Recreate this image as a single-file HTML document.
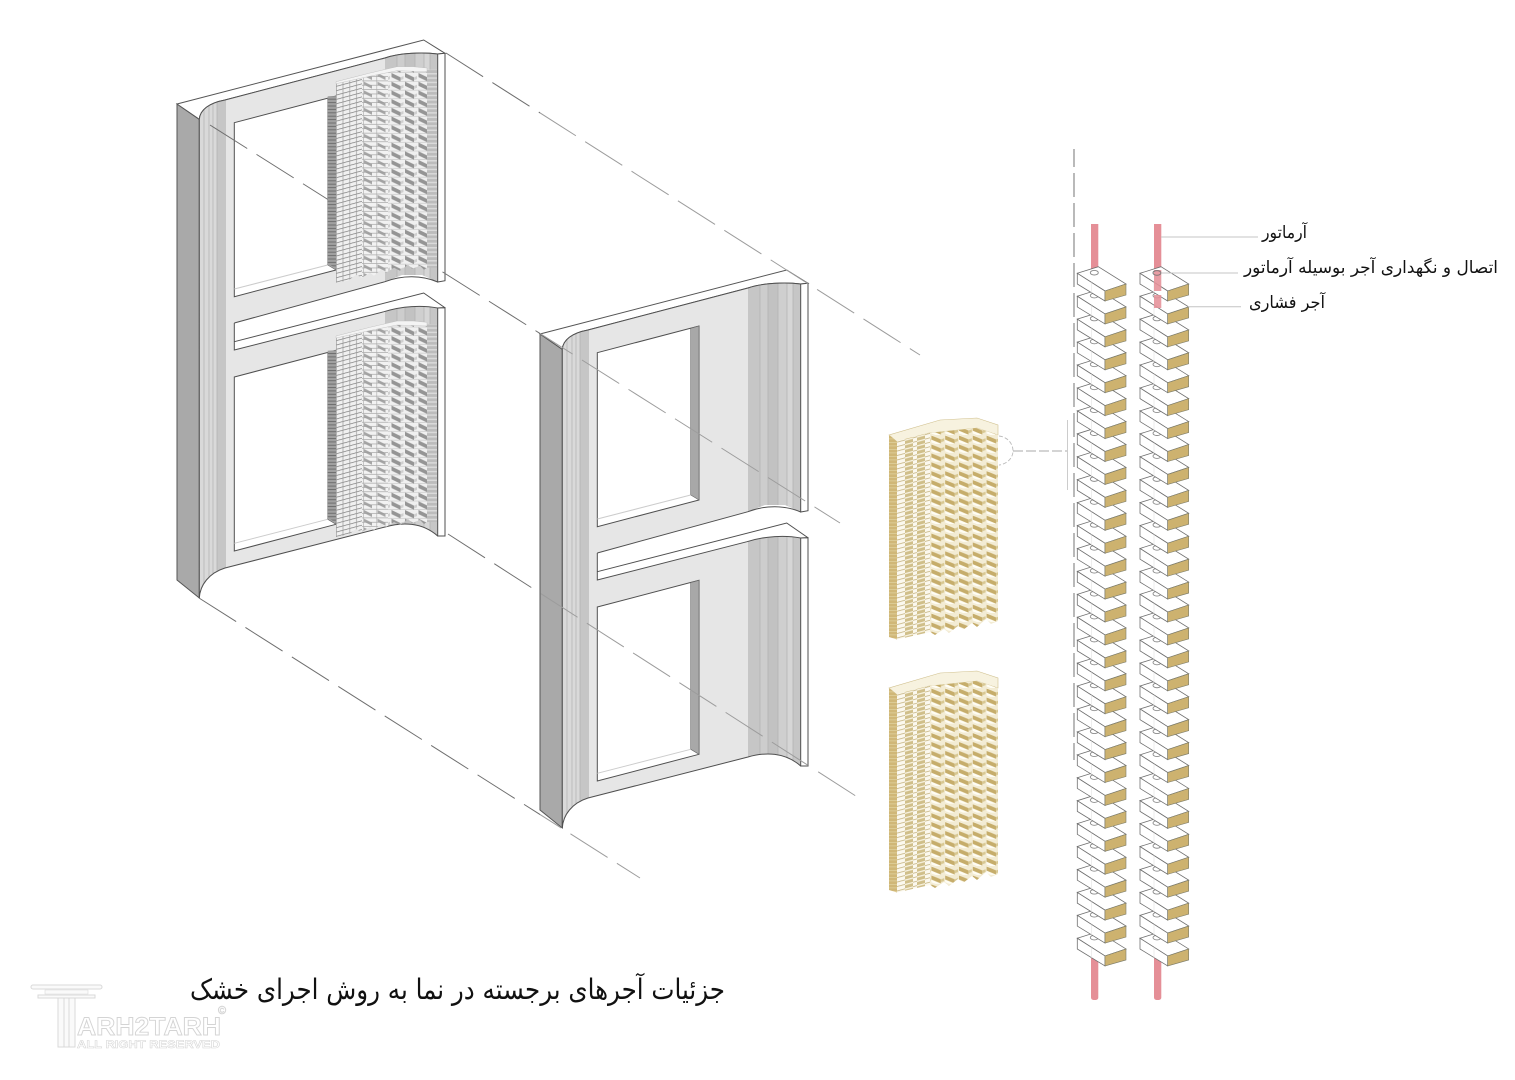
<!DOCTYPE html>
<html><head><meta charset="utf-8"><style>html,body{margin:0;padding:0;background:#fff}svg{display:block}</style></head><body>
<svg xmlns="http://www.w3.org/2000/svg" width="1515" height="1080" viewBox="0 0 1515 1080">
<defs>
<clipPath id="pc"><path d="M562.3,349.3 C563,340 572,333 588,330 L748,288 C762,283 785,282 800.7,284 L800.7,512 C785,505 765,505 748,511.7 L597.3,553 L597.3,580 L747,541.7 C765,536 785,535 800.7,538 L800.7,766 C785,752 765,752 748,757 L588,798 C572,803 563,815 562.3,828 Z"/></clipPath>
<clipPath id="cl"><rect x="0" y="0" width="540" height="1080"/></clipPath>
<clipPath id="cr"><rect x="540" y="0" width="975" height="1080"/></clipPath>
<g id="wall">
<polygon points="540,334 562.3,349.3 562.3,828 540,810" fill="#a9a9a9" stroke="#555" stroke-width="1"/>
<path d="M540,334 L786.7,270 L808,283.3 L800.7,284 C785,282 762,283 748,288 L588,330 C572,333 563,340 562.3,349.3 Z" fill="#fff" stroke="#555" stroke-width="1"/>
<path d="M562.3,349.3 C563,340 572,333 588,330 L748,288 C762,283 785,282 800.7,284 L800.7,512 C785,505 765,505 748,511.7 L597.3,553 L597.3,580 L747,541.7 C765,536 785,535 800.7,538 L800.7,766 C785,752 765,752 748,757 L588,798 C572,803 563,815 562.3,828 Z" fill="#e6e6e6"/>
<g clip-path="url(#pc)">
<rect x="562" y="320" width="18" height="520" fill="#d9d9d9"/><rect x="580" y="320" width="9" height="520" fill="#c6c6c6"/>
<rect x="748" y="270" width="12" height="510" fill="#c6c6c6"/><rect x="760" y="270" width="8" height="510" fill="#cdcdcd"/><rect x="768" y="270" width="10" height="510" fill="#c2c2c2"/><rect x="778" y="270" width="9" height="510" fill="#cfcfcf"/><rect x="787" y="270" width="6" height="510" fill="#d6d6d6"/><rect x="793" y="270" width="8" height="510" fill="#c6c6c6"/>
<path d="M567 320V840M572 320V840M576 320V840M580 320V840M760 270V780M768 270V780M778 270V780M787 270V780M793 270V780" stroke="#b0b0b0" stroke-width=".7"/>
</g>
<polygon points="597.3,553 748,511.7 765,505 785,505 800.7,512 800.7,538 786.7,523 597.3,571.7" fill="#fff"/>
<path d="M562.3,349.3 C563,340 572,333 588,330 L748,288 C762,283 785,282 800.7,284 M597.3,553 L748,511.7 C765,505 785,505 800.7,512 M597.3,553 V580 L747,541.7 C765,536 785,535 800.7,538 L808,537.7 M597.3,571.7 L786.7,523 L808,537.7 V766 L800.7,766 C785,752 765,752 748,757 L588,798 C572,803 563,815 562.3,828 M562.3,349.3V828" fill="none" stroke="#4f4f4f" stroke-width="1"/>
<path d="M800.7,284 V512 L808,510.7 V283.3 Z" fill="#fff" stroke="#4f4f4f" stroke-width="1"/>
<path d="M800.7,538 V766 L808,766 V537.7 Z" fill="#fff" stroke="#4f4f4f" stroke-width="1"/>
<polygon points="597.3,352.7 699,326 699,500 597.3,526.7" fill="#fff" stroke="#4f4f4f" stroke-width="1"/>
<polygon points="690.7,328.3 699,326 699,500 690.7,495" fill="#a8a8a8" stroke="#666" stroke-width=".6"/>
<path d="M597.3,519 L690.7,495" stroke="#ccc" stroke-width="1"/>
<polygon points="597.3,607 699,580.3 699,754.3 597.3,781" fill="#fff" stroke="#4f4f4f" stroke-width="1"/>
<polygon points="690.7,582.6 699,580.3 699,754.3 690.7,749.3" fill="#a8a8a8" stroke="#666" stroke-width=".6"/>
<path d="M597.3,773.3 L690.7,749.3" stroke="#ccc" stroke-width="1"/>
</g>

<pattern id="gf" patternUnits="userSpaceOnUse" width="13.5" height="4.35" patternTransform="skewY(-15)">
<rect width="13.5" height="4.35" fill="#f0f0f0"/><path d="M0 .3H13.5" stroke="#777" stroke-width=".8"/><path d="M.3 0V4.35M7 0V4.35" stroke="#999" stroke-width=".7"/>
</pattern>
<pattern id="gm" patternUnits="userSpaceOnUse" width="13.5" height="8.7">
<rect width="13.5" height="8.7" fill="#f2f2f2"/><polygon points="1,0 9,4 9,7 1,3" fill="#a6a6a6"/><path d="M0 3.6H13.5M0 7.9H13.5" stroke="#999" stroke-width=".6"/><path d="M.3 0V8.7" stroke="#aaa" stroke-width=".6"/>
</pattern>
<pattern id="gd" patternUnits="userSpaceOnUse" width="13.5" height="8.7">
<rect width="13.5" height="8.7" fill="#f0f0f0"/><polygon points="1.5,0 10.5,4.3 10.5,8.4 1.5,4.1" fill="#959595"/><polygon points="10.5,4.3 13.5,3 13.5,6 10.5,7.3" fill="#cfcfcf"/><path d="M0 8.4H13.5" stroke="#bbb" stroke-width=".5"/>
</pattern>
<pattern id="gs" patternUnits="userSpaceOnUse" width="10" height="4.35">
<rect width="10" height="4.35" fill="#bcbcbc"/><rect width="10" height="1.5" fill="#dadada"/>
</pattern>
<pattern id="gr" patternUnits="userSpaceOnUse" width="9" height="3.4">
<rect width="9" height="3.4" fill="#a0a0a0"/><rect width="9" height="1" fill="#6f6f6f"/>
</pattern>
<clipPath id="gc"><polygon points="0,0 34,-8.7 61,-15 77,-15 91,-13.7 91,186 88,188 84,184 76,187 72,183 64,189 58,186 50,191 45,188 38,194 34,191 26,196 20,193 12,199 0,201"/></clipPath>
<g id="gp">
<g clip-path="url(#gc)">
<rect x="0" y="-20" width="26" height="225" fill="url(#gf)"/>
<rect x="26" y="-20" width="26" height="225" fill="url(#gm)"/>
<rect x="52" y="-20" width="40" height="225" fill="url(#gd)"/>
</g>
<polygon points="0,0 34,-8.7 61,-15 77,-15 91,-13.7 91,-10 61,-11 34,-5.5 0,2" fill="#f4f4f4" stroke="#bbb" stroke-width=".4"/>
<rect x="91" y="-12" width="10" height="198" fill="url(#gs)"/>
<polygon points="-8.3,14.7 0,14.2 0,186.3 -8.3,182.3" fill="url(#gr)"/>
</g>

<pattern id="tf" patternUnits="userSpaceOnUse" width="13.8" height="4.45" patternTransform="skewY(-15)">
<rect width="13.8" height="4.45" fill="#fbf8ee"/><path d="M0 .3H13.8" stroke="#c4b27e" stroke-width="1"/>
</pattern>
<pattern id="tb" patternUnits="userSpaceOnUse" width="13.8" height="4.45" patternTransform="skewY(-15)">
<rect width="13.8" height="4.45" fill="#d0bf8a"/><rect width="13.8" height="1.3" fill="#f8f3e2"/>
</pattern>
<pattern id="td" patternUnits="userSpaceOnUse" width="13.8" height="8.9">
<rect width="13.8" height="8.9" fill="#f3ecd4"/><polygon points="1,0.5 10.5,4.5 10.5,8.7 1,4.7" fill="#c6ad6b"/><polygon points="1,4.7 10.5,8.7 10.5,8.9 5,8.9 1,7.4" fill="#fffdf4"/><polygon points="1,0 6,2.1 1,.5" fill="#fffdf4"/><polygon points="10.5,4.5 13.8,3.2 13.8,6 10.5,7.3" fill="#d8c893"/>
</pattern>
<pattern id="tl" patternUnits="userSpaceOnUse" width="8" height="3.5">
<rect width="8" height="3.5" fill="#d0b777"/><rect width="8" height=".8" fill="#e0d09c"/>
</pattern>
<clipPath id="tc"><polygon points="8,6 40,-2 88,-7 109,0 109,186 102,189 97,184 88,192 83,188 74,195 69,191 60,198 55,194 46,200 41,197 8,204.5"/></clipPath>
<g id="tp">
<polygon points="0,0 51,-15 88,-17 109,-10 109,0 88,-7 40,-2 8,6.7" fill="#f7f2df" stroke="#d0c08e" stroke-width=".6"/>
<polygon points="0,0 8,6.7 8,204.5 0,202" fill="url(#tl)"/>
<g clip-path="url(#tc)">
<rect x="8" y="-10" width="8" height="220" fill="url(#tf)"/>
<rect x="16" y="-10" width="8" height="220" fill="url(#tb)"/>
<rect x="24" y="-10" width="4" height="220" fill="url(#tf)"/>
<rect x="28" y="-10" width="8" height="220" fill="url(#tb)"/>
<rect x="36" y="-10" width="5" height="220" fill="url(#tf)"/>
<rect x="41" y="-10" width="69" height="220" fill="url(#td)"/>
</g>
</g>

<g id="b">
<polygon points="0,0 21,-6.6 48.7,10.7 27.7,17.7" fill="#fff" stroke="#707070" stroke-width=".8"/>
<polygon points="0,0 27.7,17.7 27.7,27.7 0,10.7" fill="#fff" stroke="#707070" stroke-width=".8"/>
<polygon points="27.7,17.7 48.7,10.7 48.7,21.7 27.7,27.7" fill="#cdb26f" stroke="#7d7d6a" stroke-width=".6"/>
<ellipse cx="17" cy="-.6" rx="4" ry="2.3" fill="none" stroke="#8a8a8a" stroke-width=".9"/>
<path d="M14 9V19.5" stroke="#e2e2e2" stroke-width=".6"/>
</g>
<g id="chain">
<use href="#b" y="664.97"/><use href="#b" y="642.04"/><use href="#b" y="619.11"/><use href="#b" y="596.18"/><use href="#b" y="573.25"/><use href="#b" y="550.32"/><use href="#b" y="527.39"/><use href="#b" y="504.46"/><use href="#b" y="481.53"/><use href="#b" y="458.6"/><use href="#b" y="435.67"/><use href="#b" y="412.74"/><use href="#b" y="389.81"/><use href="#b" y="366.88"/><use href="#b" y="343.95"/><use href="#b" y="321.02"/><use href="#b" y="298.09"/><use href="#b" y="275.16"/><use href="#b" y="252.23"/><use href="#b" y="229.3"/><use href="#b" y="206.37"/><use href="#b" y="183.44"/><use href="#b" y="160.51"/><use href="#b" y="137.58"/><use href="#b" y="114.65"/><use href="#b" y="91.72"/><use href="#b" y="68.79"/><use href="#b" y="45.86"/><use href="#b" y="22.93"/><use href="#b" y="0"/>
</g>
<g id="ls" fill="none" stroke-width="1" stroke-dasharray="44 11">
<path d="M446,53 L920,355"/>
<path d="M210,125 L840,523"/>
<path d="M448,534 L862,800"/>
<path d="M199,598 L640,878"/>
</g>
</defs>

<use href="#wall" transform="translate(-363,-230)"/>
<use href="#wall"/>

<g clip-path="url(#cl)"><use href="#ls" stroke="#6e6e6e"/></g>
<g clip-path="url(#cr)"><use href="#ls" stroke="#9c9c9c"/></g>

<use href="#gp" transform="translate(336,81.7)"/>
<use href="#gp" transform="translate(336,336)"/>

<use href="#tp" transform="translate(889,435)"/>
<use href="#tp" transform="translate(889,688)"/>

<path d="M999,436 C1008,437 1013,444 1013,451 C1013,458 1007,464 999,465" fill="none" stroke="#bbb" stroke-width=".9" stroke-dasharray="4 2"/>
<path d="M1013,451H1068" stroke="#aaa" stroke-width="1" stroke-dasharray="10 3"/>
<path d="M1067.5,420V490" stroke="#ccc" stroke-width="1"/>
<path d="M1074,149V760" stroke="#a8a8a8" stroke-width="1.6" stroke-dasharray="24 6" stroke-dashoffset="6"/>

<rect x="1091" y="224" width="7.3" height="50" fill="#e58f97"/>
<rect x="1154" y="224" width="7.3" height="50" fill="#e58f97"/>
<rect x="1091" y="955" width="7.3" height="45" rx="2.5" fill="#e58f97"/>
<rect x="1154" y="955" width="7.3" height="45" rx="2.5" fill="#e58f97"/>

<use href="#chain" transform="translate(1077.3,273.3)"/>
<use href="#chain" transform="translate(1140,273.3)"/>

<rect x="1154" y="270" width="7.3" height="21" fill="#e58f97" opacity=".88"/>
<rect x="1154" y="295" width="7.3" height="13" fill="#e58f97" opacity=".88"/>
<ellipse cx="1157" cy="273" rx="4" ry="2.3" fill="none" stroke="#777" stroke-width=".9"/>

<path d="M1161,237H1258M1162,273H1238M1188,306.7H1241" stroke="#c4c4c4" stroke-width="1" fill="none"/>

<g font-family="'DejaVu Sans',sans-serif" fill="#111" text-anchor="middle">
<text x="1284.5" y="238" font-size="17" direction="rtl" textLength="45" lengthAdjust="spacingAndGlyphs">آرماتور</text>
<text x="1371" y="273" font-size="17" direction="rtl" textLength="254" lengthAdjust="spacingAndGlyphs">اتصال و نگهداری آجر بوسیله  آرماتور</text>
<text x="1287" y="308" font-size="17" direction="rtl" textLength="76" lengthAdjust="spacingAndGlyphs">آجر فشاری</text>
<text x="457.5" y="999" font-size="28" direction="rtl" textLength="535" lengthAdjust="spacingAndGlyphs">جزئیات آجرهای برجسته در نما به روش اجرای خشک</text>
</g>

<g fill="#fafafa" stroke="#d9d9d9" stroke-width="1">
<rect x="31" y="985" width="71" height="4" rx="2"/>
<rect x="38" y="995" width="57" height="3"/>
<path d="M45 990H88V994H45Z" stroke-width=".6"/>
<path d="M58 998H64V1047H58ZM64 998H69V1047H64ZM69 998H75V1047H69Z"/>
</g>
<g font-family="'Liberation Sans',sans-serif" font-weight="bold" fill="#fff" stroke="#d4d4d4" stroke-width=".9">
<text x="77" y="1035" font-size="25" textLength="144" lengthAdjust="spacingAndGlyphs">ARH2TARH</text>
<text x="77" y="1048" font-size="11" textLength="143" lengthAdjust="spacingAndGlyphs" stroke-width=".5">ALL RIGHT RESERVED</text>
<text x="218" y="1014" font-size="11" font-weight="normal" stroke-width=".5">©</text>
</g>
</svg>
</body></html>
